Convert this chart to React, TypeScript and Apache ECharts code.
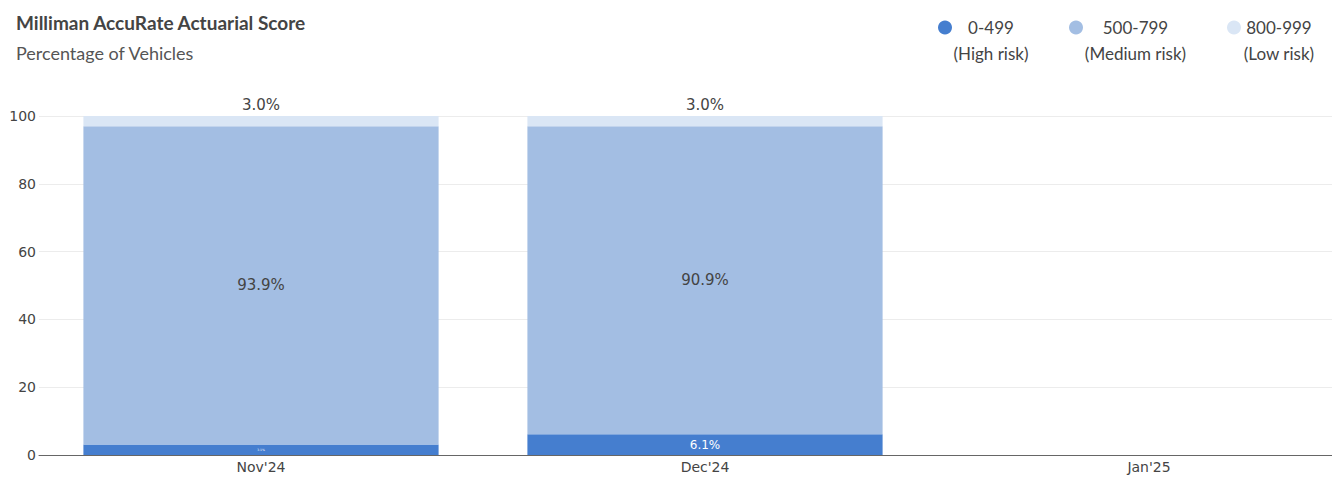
import React, { useEffect, useRef } from 'react';
import * as echarts from 'echarts';

const categories = ["Nov'24", "Dec'24", "Jan'25"];
const highRisk: (number | null)[] = [3.1, 6.1, null];
const mediumRisk: (number | null)[] = [93.9, 90.9, null];
const lowRisk: (number | null)[] = [3.0, 3.0, null];
const bandNames = ['0-499', '500-799', '800-999'];
const bandRisk = ['(High risk)', '(Medium risk)', '(Low risk)'];
const bandColors = ['#457ecf', '#a3bee3', '#dae6f5'];

const tickFont = 'DejaVu Sans';
const uiFont = 'Lato';
const pct = (p: any) => (p.value == null ? '' : `${Number(p.value).toFixed(1)}%`);

// the plot runs past the right edge of the visible area, so the chart is wider than its frame
const VIEW_W = 1332;
const CHART_W = 1371;

const App: React.FC = () => {
  const chartRef = useRef<HTMLDivElement>(null);

  useEffect(() => {
    if (!chartRef.current) return;
    const chart = echarts.init(chartRef.current, null, { renderer: 'svg' });

    const legendWidths = [76, 103, 74];
    const rich: Record<string, any> = {};
    legendWidths.forEach((w, i) => {
      rich['w' + i] = {
        width: w,
        align: 'center',
        fontFamily: uiFont,
        fontSize: 17,
        lineHeight: 26,
        color: '#444',
      };
    });

    chart.setOption({
      animation: false,
      title: {
        text: 'Milliman AccuRate Actuarial Score',
        subtext: 'Percentage of Vehicles',
        left: 16,
        top: 11,
        padding: 0,
        itemGap: 10,
        textStyle: {
          fontFamily: uiFont,
          fontSize: 19,
          fontWeight: 'bold',
          color: '#444',
          lineHeight: 22,
        },
        subtextStyle: {
          fontFamily: uiFont,
          fontSize: 18,
          color: '#555',
          lineHeight: 20,
        },
      },
      legend: {
        right: CHART_W - 1316,
        top: -7,
        padding: 0,
        icon: 'circle',
        itemWidth: 14,
        itemHeight: 14,
        itemGap: 40,
        selectedMode: false,
        data: bandNames,
        formatter: (name: string) => {
          const i = bandNames.indexOf(name);
          return `{w${i}|}\n{w${i}|${name}}\n{w${i}|${bandRisk[i]}}`;
        },
        textStyle: { padding: [0, 0, 0, -4], rich },
      },
      grid: { left: 39, right: 0, top: 116, bottom: 39 },
      xAxis: {
        type: 'category',
        data: categories,
        axisTick: { show: false },
        axisLine: { lineStyle: { color: '#666', width: 1 } },
        axisLabel: { fontFamily: tickFont, fontSize: 14, color: '#444', margin: 5 },
      },
      yAxis: {
        type: 'value',
        min: 0,
        max: 100,
        interval: 20,
        axisLine: { show: false },
        axisTick: { show: false },
        axisLabel: { fontFamily: tickFont, fontSize: 14, color: '#444', margin: 3 },
        splitLine: { lineStyle: { color: '#ececec', width: 1 } },
      },
      series: [
        {
          name: bandNames[0],
          type: 'bar',
          stack: 'total',
          barCategoryGap: '20%',
          itemStyle: { color: bandColors[0] },
          data: highRisk.map((v) => ({
            value: v,
            label: { fontSize: v != null && v < 5 ? 3 : 12 },
          })),
          label: {
            show: true,
            position: 'inside',
            color: '#fff',
            fontFamily: tickFont,
            formatter: pct,
          },
        },
        {
          name: bandNames[1],
          type: 'bar',
          stack: 'total',
          itemStyle: { color: bandColors[1] },
          data: mediumRisk,
          label: {
            show: true,
            position: 'inside',
            color: '#444',
            fontFamily: tickFont,
            fontSize: 15,
            formatter: pct,
          },
        },
        {
          name: bandNames[2],
          type: 'bar',
          stack: 'total',
          itemStyle: { color: bandColors[2] },
          data: lowRisk,
          label: {
            show: true,
            position: 'top',
            distance: 4,
            color: '#444',
            fontFamily: tickFont,
            fontSize: 15,
            formatter: pct,
          },
        },
      ],
    });

    return () => {
      chart.dispose();
    };
  }, []);

  return (
    <div
      style={{
        position: 'absolute',
        left: 0,
        top: 0,
        width: `${VIEW_W}px`,
        height: '494px',
        overflow: 'hidden',
      }}
    >
      <div ref={chartRef} style={{ width: `${CHART_W}px`, height: '494px' }} />
    </div>
  );
};

export default App;
